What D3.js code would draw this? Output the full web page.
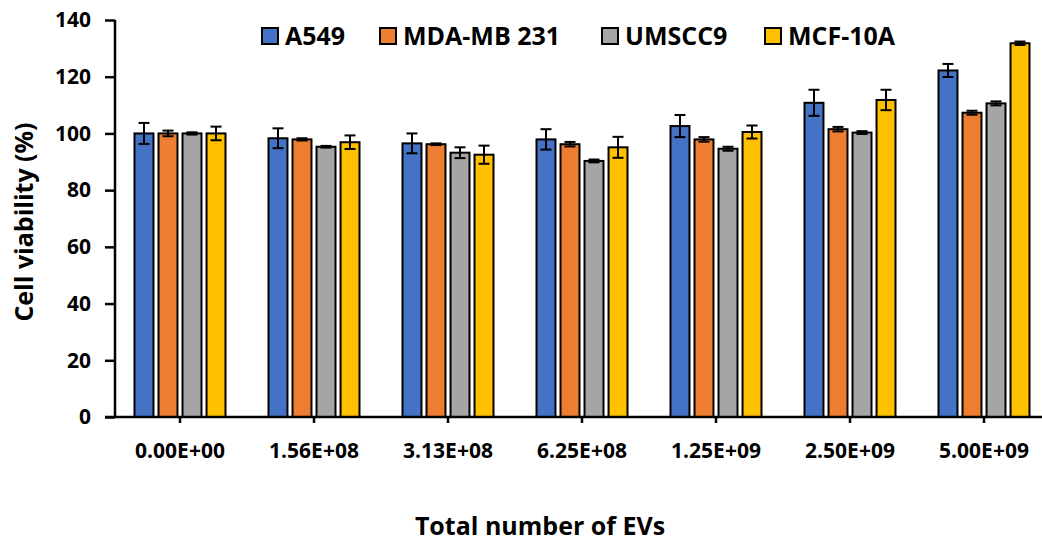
<!DOCTYPE html>
<html>
<head>
<meta charset="utf-8">
<script src="https://cdn.jsdelivr.net/npm/d3@7"></script>
<style>
  body { margin: 0; background: #fff; }
  text { font-family: "Open Sans", "Noto Sans", sans-serif; font-weight: bold; fill: #000; }
</style>
</head>
<body>
<script>
// categories (total number of EVs)
const doses = ["0.00E+00", "1.56E+08", "3.13E+08", "6.25E+08", "1.25E+09", "2.50E+09", "5.00E+09"];
const cellLines = ["A549", "MDA-MB 231", "UMSCC9", "MCF-10A"];
const colors = ["#4472C4", "#ED7D31", "#A5A5A5", "#FFC000"];

// mean viability (%) per cell line, one value per dose
const a549 = [100, 98.3, 96.5, 97.9, 102.6, 110.8, 122.2];
const mda231 = [100, 97.9, 96.2, 96.2, 97.9, 101.5, 107.3];
const umscc9 = [100, 95.3, 93.2, 90.3, 94.6, 100.3, 110.6];
const mcf10a = [100, 96.9, 92.5, 95.1, 100.5, 111.8, 131.8];

// error bars (+/-)
const a549Err = [3.7, 3.5, 3.5, 3.6, 3.9, 4.6, 2.3];
const mda231Err = [1.0, 0.4, 0.3, 0.8, 0.8, 0.8, 0.7];
const umscc9Err = [0.4, 0.3, 1.9, 0.5, 0.7, 0.5, 0.7];
const mcf10aErr = [2.4, 2.4, 3.2, 3.7, 2.3, 3.6, 0.6];

const yTicks = [0, 20, 40, 60, 80, 100, 120, 140];

const means = [a549, mda231, umscc9, mcf10a];
const errs = [a549Err, mda231Err, umscc9Err, mcf10aErr];

const width = 1042;
const height = 542;

const svg = d3.select('body').append('svg')
    .attr('width', width)
    .attr('height', height);

const x = d3.scaleBand()
    .domain(doses)
    .range([113, 113 + 7 * 134]);

const xSub = d3.scaleBand()
    .domain(cellLines)
    .range([21.5, 112.5])
    .paddingInner(0.21);

const y = d3.scaleLinear()
    .domain([0, 140])
    .range([417, 20]);

// flatten into bar records
const bars = [];
doses.forEach((dose, i) => {
    cellLines.forEach((line, j) => {
        bars.push({dose, line, j, value: means[j][i], err: errs[j][i]});
    });
});

// bars
svg.append('g')
    .selectAll('rect')
    .data(bars)
    .join('rect')
    .attr('x', d => x(d.dose) + xSub(d.line))
    .attr('y', d => y(d.value))
    .attr('width', xSub.bandwidth())
    .attr('height', d => y(0) - y(d.value))
    .attr('fill', d => colors[d.j])
    .attr('stroke', '#000')
    .attr('stroke-width', 2);

// error bars
const eb = svg.append('g')
    .attr('stroke', '#000')
    .attr('stroke-width', 2);

const cx = d => x(d.dose) + xSub(d.line) + xSub.bandwidth() / 2;

eb.selectAll('line.v')
    .data(bars)
    .join('line')
    .attr('class', 'v')
    .attr('x1', cx).attr('x2', cx)
    .attr('y1', d => y(d.value + d.err))
    .attr('y2', d => y(d.value - d.err));

eb.selectAll('line.top')
    .data(bars)
    .join('line')
    .attr('class', 'top')
    .attr('x1', d => cx(d) - 5.5).attr('x2', d => cx(d) + 5.5)
    .attr('y1', d => y(d.value + d.err))
    .attr('y2', d => y(d.value + d.err));

eb.selectAll('line.bot')
    .data(bars)
    .join('line')
    .attr('class', 'bot')
    .attr('x1', d => cx(d) - 5.5).attr('x2', d => cx(d) + 5.5)
    .attr('y1', d => y(d.value - d.err))
    .attr('y2', d => y(d.value - d.err));

// Left axis
const yAxis = svg.append('g')
    .attr('transform', 'translate(115,0)')
    .call(d3.axisLeft(y).tickValues(yTicks).tickSize(10).tickPadding(14));
yAxis.select('.domain').attr('stroke-width', 2.5).attr('d', `M0,${y(140)}V${y(0)}`);
yAxis.selectAll('.tick line').attr('stroke-width', 2.5);
yAxis.selectAll('.tick text').attr('font-size', 21).attr('font-family', null);

// Bottom axis
const xAxis = svg.append('g')
    .attr('transform', `translate(0,${y(0)})`)
    .call(d3.axisBottom(x).tickSize(6).tickPadding(20));
xAxis.select('.domain').attr('stroke-width', 2.5).attr('d', `M105,0H${width}`);
xAxis.selectAll('.tick line').attr('stroke-width', 2.5);
xAxis.selectAll('.tick text').attr('font-size', 21).attr('font-family', null);

// axis titles
svg.append('text')
    .attr('transform', 'translate(33,222) rotate(-90)')
    .attr('text-anchor', 'middle')
    .attr('font-size', 25)
    .text('Cell viability (%)');

svg.append('text')
    .attr('x', 540)
    .attr('y', 535)
    .attr('text-anchor', 'middle')
    .attr('font-size', 25)
    .text('Total number of EVs');

// legend
const legendX = [262, 380, 602, 765];
const legend = svg.append('g')
    .selectAll('g')
    .data(cellLines)
    .join('g')
    .attr('transform', (d, i) => `translate(${legendX[i]},28)`);

legend.append('rect')
    .attr('width', 16)
    .attr('height', 16)
    .attr('fill', (d, i) => colors[i])
    .attr('stroke', '#000')
    .attr('stroke-width', 2);

legend.append('text')
    .attr('x', 23)
    .attr('y', 8)
    .attr('dy', '0.35em')
    .attr('font-size', 25)
    .text(d => d);
</script>
</body>
</html>
